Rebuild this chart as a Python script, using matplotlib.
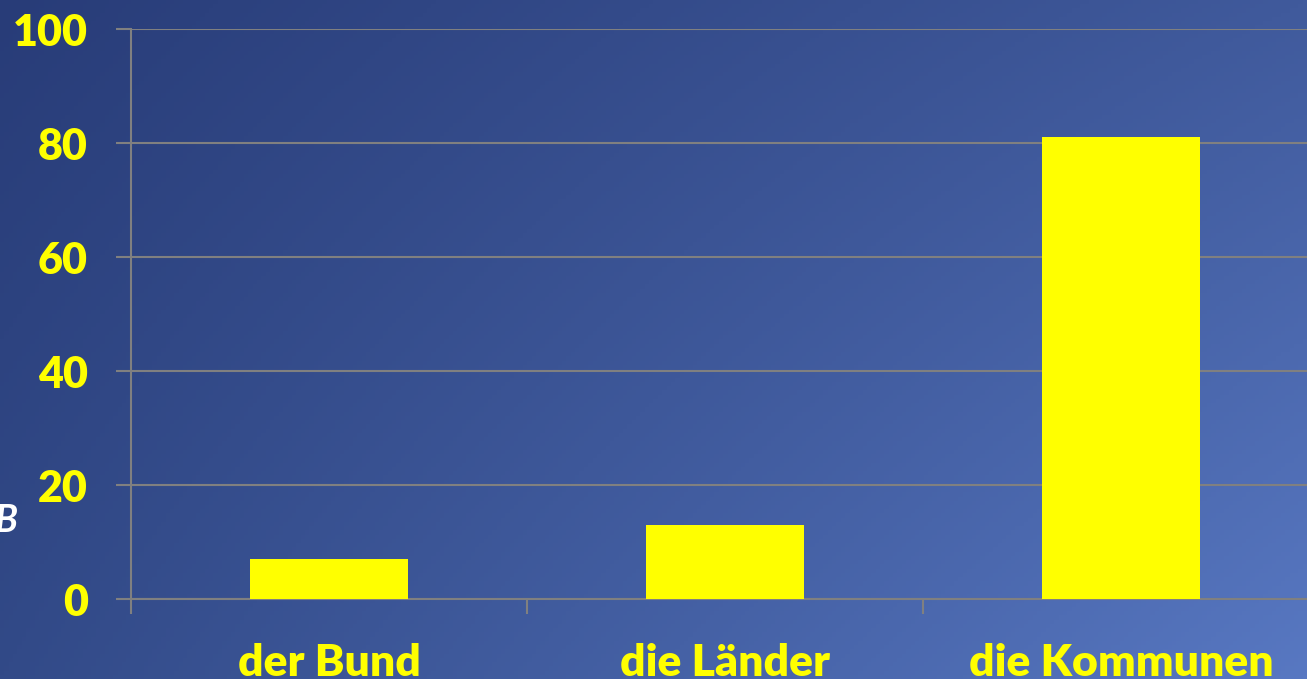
import numpy as np
import matplotlib
matplotlib.use("Agg")
from matplotlib import pyplot as plt
from matplotlib.colors import to_rgb

categories = ["der Bund", "die Länder", "die Kommunen"]
values = [7, 13, 81]
yticks = [0, 20, 40, 60, 80, 100]

plt.rcParams['font.family'] = ['Lato', 'DejaVu Sans']

W, H = 1307, 679
fig = plt.figure(figsize=(W / 100, H / 100), dpi=100)

# background gradient, dark top-left to light bottom-right
tl, tr = np.array(to_rgb("#283c78")), np.array(to_rgb("#405a9c"))
bl, br = np.array(to_rgb("#324a88")), np.array(to_rgb("#5878c2"))
u = np.linspace(0, 1, 300)[None, :, None]
v = np.linspace(0, 1, 160)[:, None, None]
img = (1 - v) * ((1 - u) * tl + u * tr) + v * ((1 - u) * bl + u * br)
bg = fig.add_axes([0, 0, 1, 1], zorder=0)
bg.axis("off")
bg.imshow(img, aspect="auto", extent=[0, 1, 0, 1], origin="upper")

left = 131 / W
bottom = (H - 599) / H
height = 570 / H
width = 1188 / W
ax = fig.add_axes([left, bottom, width, height], zorder=1)
ax.patch.set_alpha(0)

x = np.arange(len(categories))
ax.bar(x, values, width=0.4, color="#ffff00", zorder=3)

ax.set_xlim(-0.5, 2.5)
ax.set_ylim(0, 100)
ax.set_yticks(yticks)
ax.set_yticklabels([str(v) for v in yticks])
ax.set_xticks(x)
ax.set_xticklabels(categories)
ax.set_xticks([-0.5, 0.5, 1.5, 2.5], minor=True)

grid_c = "#808080"
ax.yaxis.grid(True, color=grid_c, linewidth=1.5, zorder=1)
ax.set_axisbelow(True)
for s in ["top", "right"]:
    ax.spines[s].set_visible(False)
for s in ["left", "bottom"]:
    ax.spines[s].set_color(grid_c)
    ax.spines[s].set_linewidth(1.5)

ax.tick_params(axis="y", length=11, width=1.5, color=grid_c, pad=20,
               labelsize=31, labelcolor="#ffff00")
ax.tick_params(axis="x", which="major", length=0, pad=32,
               labelsize=32, labelcolor="#ffff00")
ax.tick_params(axis="x", which="minor", length=11, width=1.5, color=grid_c)
for lab in ax.get_xticklabels() + ax.get_yticklabels():
    lab.set_fontweight("heavy")

fig.text(-0.004, (H - 520) / H, "B", color="white", fontsize=27,
         fontweight="bold", fontstyle="italic", va="center", ha="left")

fig.savefig("out.png", dpi=100)
